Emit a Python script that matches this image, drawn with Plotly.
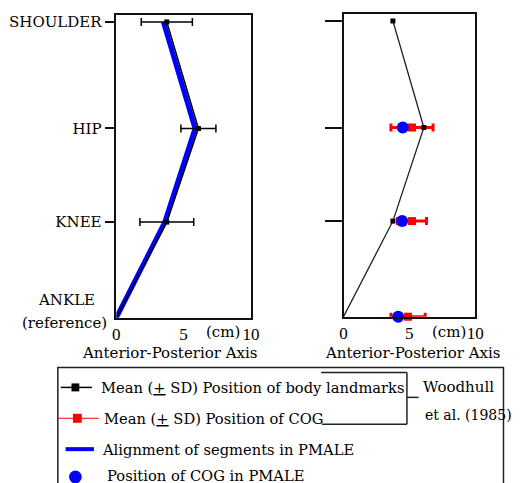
import plotly.graph_objects as go

# ---------------- data ----------------
levels = ["ANKLE", "KNEE", "HIP", "SHOULDER"]
level_y = [0, 96, 190, 297]                 # vertical position of landmarks
landmark_x = [0, 3.75, 6.1, 3.75]            # mean A-P position of body landmarks (cm)
landmark_sd = [0, 2.0, 1.3, 1.9]             # SD of landmark positions (cm)
pmale_x = [0, 3.6, 5.85, 3.5]                # alignment of segments in PMALE (cm)
cog_levels = ["ANKLE", "KNEE", "HIP"]
cog_x = [4.9, 5.2, 5.2]                      # mean COG position (cm)
cog_sd = [1.3, 1.1, 1.6]                     # SD of COG position (cm)
pmale_cog_x = [4.15, 4.45, 4.5]              # COG position in PMALE (cm)
x_ticks = [0, 5, 10]
x_ticktext = ["0", "5", "10"]

OFF = 8                      # page body margin
W, H = 531 - OFF, 483 - OFF
FONT = "DejaVu Serif"
NUMFONT = "Liberation Serif"
FS = 15


def px(x):
    return (x - OFF) / W


def py(y):
    return 1 - (y - OFF) / H


cog_y = [level_y[levels.index(l)] for l in cog_levels]

fig = go.Figure()

# ---- left panel ----
fig.add_trace(go.Scatter(x=pmale_x, y=level_y, mode="lines",
                         line=dict(color="#0000ff", width=5),
                         xaxis="x", yaxis="y", cliponaxis=False, showlegend=False))
fig.add_trace(go.Scatter(x=landmark_x, y=level_y, mode="lines",
                         line=dict(color="black", width=1.5),
                         xaxis="x", yaxis="y", cliponaxis=False, showlegend=False))
fig.add_trace(go.Scatter(x=landmark_x[1:], y=level_y[1:], mode="markers",
                         marker=dict(symbol="square", size=5, color="black"),
                         error_x=dict(type="data", array=landmark_sd[1:], color="black",
                                      thickness=1.5, width=4),
                         xaxis="x", yaxis="y", cliponaxis=False, showlegend=False))

# ---- right panel ----
fig.add_trace(go.Scatter(x=cog_x, y=cog_y, mode="markers",
                         marker=dict(symbol="square", size=8, color="#ff0000"),
                         error_x=dict(type="data", array=cog_sd, color="#ff0000",
                                      thickness=3, width=4),
                         xaxis="x2", yaxis="y2", cliponaxis=False, showlegend=False))
fig.add_trace(go.Scatter(x=pmale_cog_x, y=cog_y, mode="markers",
                         marker=dict(symbol="circle", size=12, color="#0000ff"),
                         xaxis="x2", yaxis="y2", cliponaxis=False, showlegend=False))
fig.add_trace(go.Scatter(x=landmark_x, y=level_y, mode="lines",
                         line=dict(color="#222222", width=1.3),
                         xaxis="x2", yaxis="y2", cliponaxis=False, showlegend=False))
fig.add_trace(go.Scatter(x=landmark_x[1:], y=level_y[1:], mode="markers",
                         marker=dict(symbol="square", size=5, color="black"),
                         xaxis="x2", yaxis="y2", cliponaxis=False, showlegend=False))

axis_common = dict(range=[0, 10], tickvals=x_ticks, ticktext=x_ticktext, ticks="",
                   showline=True, mirror=True, linecolor="#111", linewidth=1.5,
                   showgrid=False, zeroline=False,
                   tickfont=dict(family=NUMFONT, size=17, color="black"))
yaxis_common = dict(range=[0, 304], tickvals=level_y[1:], ticks="outside",
                    tickcolor="#111", tickwidth=1.5,
                    showline=True, mirror=True, linecolor="#111", linewidth=1.5,
                    showgrid=False, zeroline=False,
                    tickfont=dict(family=FONT, size=FS, color="black"))

shapes = []
annotations = []


def text(x, y, s, xanchor="center", size=FS, family=FONT):
    annotations.append(dict(x=px(x), y=py(y), xref="paper", yref="paper", text=s,
                            showarrow=False, xanchor=xanchor, yanchor="middle",
                            font=dict(family=family, size=size, color="black")))


def line(x0, y0, x1, y1, color="black", width=1.5):
    shapes.append(dict(type="line", xref="paper", yref="paper",
                       x0=px(x0), y0=py(y0), x1=px(x1), y1=py(y1),
                       line=dict(color=color, width=width)))


def rect(cx, cy, s, color):
    shapes.append(dict(type="rect", xref="paper", yref="paper",
                       x0=px(cx - s / 2), x1=px(cx + s / 2), y0=py(cy - s / 2), y1=py(cy + s / 2),
                       fillcolor=color, line=dict(width=0)))


def circle(cx, cy, r, color):
    shapes.append(dict(type="circle", xref="paper", yref="paper",
                       x0=px(cx - r), x1=px(cx + r), y0=py(cy - r), y1=py(cy + r),
                       fillcolor=color, line=dict(width=0)))


# axis annotations
text(64, 299, "ANKLE")
text(62, 322, "(reference)")
text(224, 331, "(cm)")
text(456, 331, "(cm)")
text(170, 352, "Anterior-Posterior Axis")
text(419, 352, "Anterior-Posterior Axis")

# legend box
shapes.append(dict(type="rect", xref="paper", yref="paper",
                   x0=px(55), x1=px(512), y0=py(367), y1=py(495),
                   line=dict(color="#222", width=1.5), fillcolor="rgba(0,0,0,0)"))
# item 1
line(58, 387, 90, 387, "black", 1.5)
rect(73, 387, 8, "black")
text(97, 387, "Mean (<u>+</u> SD) Position of body landmarks", "left", size=14.7)
# item 2
line(55, 418, 97, 418, "#ff0000", 1.2)
rect(75, 418, 9, "#ff0000")
text(100, 418, "Mean (<u>+</u> SD) Position of COG", "left", size=14.7)
# item 3
line(63, 449, 92, 449, "#0000ff", 4)
text(98, 449, "Alignment of segments in PMALE", "left", size=14.7)
# item 4
circle(73, 477, 6.5, "#0000ff")
text(103, 475, "Position of COG in PMALE", "left", size=14.7)
# bracket
line(325, 372, 413, 372, "#222", 1.5)
line(413, 372, 413, 424, "#222", 1.5)
line(326, 424, 413, 424, "#222", 1.5)
line(413, 397, 425, 397, "#222", 1.5)
text(427, 387, "Woodhull", "left")
text(429, 415, "et al. (1985)", "left", size=14)

fig.update_layout(
    width=W, height=H,
    margin=dict(l=0, r=0, t=0, b=0),
    paper_bgcolor="white", plot_bgcolor="white",
    font=dict(family=FONT, size=FS, color="black"),
    showlegend=False,
    xaxis=dict(domain=[px(115), px(253)], anchor="y", **axis_common),
    yaxis=dict(domain=[py(317), py(13)], anchor="x", ticklen=10,
               ticktext=levels[1:], **yaxis_common),
    xaxis2=dict(domain=[px(348), px(483)], anchor="y2", **axis_common),
    yaxis2=dict(domain=[py(316), py(12)], anchor="x2", ticklen=17,
                showticklabels=False, **yaxis_common),
    shapes=shapes,
    annotations=annotations,
)

fig.write_html("out.html")
